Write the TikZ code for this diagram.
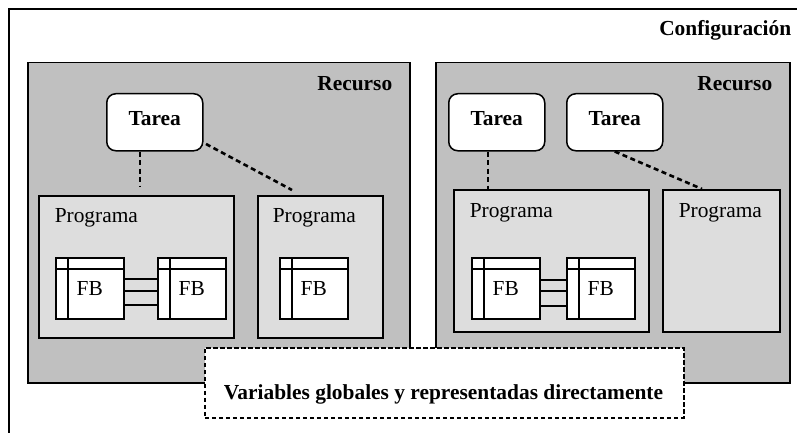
\documentclass[tikz,border=0pt]{standalone}
\usepackage{fontspec}
\setmainfont{Liberation Serif}
\definecolor{recgray}{RGB}{192,192,192}
\definecolor{proggray}{RGB}{221,221,221}
\begin{document}
\begin{tikzpicture}[x=1pt,y=-1pt,line width=1.5pt,
  font=\fontsize{21.4}{25}\selectfont,
  recbox/.style={draw,fill=recgray,anchor=north west,inner sep=0,minimum height=320pt},
  progbox/.style={draw,fill=proggray,anchor=north west,inner sep=0},
  tareabox/.style={draw,fill=white,rounded corners=9pt,anchor=north west,inner sep=0,
     minimum width=96pt,minimum height=57pt,text height=14pt,text depth=7pt,font=\fontsize{21.4}{25}\selectfont\bfseries},
  fbbox/.style={draw,fill=white,anchor=north west,inner sep=0,minimum width=68pt,minimum height=61pt,
     path picture={
       \draw ([xshift=12pt]path picture bounding box.north west) -- ([xshift=12pt]path picture bounding box.south west);
       \draw ([yshift=-11pt]path picture bounding box.north west) -- ([yshift=-11pt]path picture bounding box.north east);
     }},
  boldlabel/.style={font=\fontsize{21.4}{25}\selectfont\bfseries,inner sep=0},
  plainlabel/.style={inner sep=0,anchor=base west},
  tdash/.style={line width=2.6pt,dash pattern=on 5pt off 3.5pt},
  wire/.style={line width=1.5pt}
]
\useasboundingbox (0,0) rectangle (797,433);
\fill[white] (0,0) rectangle (797,433);
% Configuracion frame (cropped at right and bottom)
\draw (9,460) |- (830,9);
\node[boldlabel,anchor=base east] (conf) at (792,36) {Configuración};

% Left resource
\node[recbox,minimum width=382pt] (r1) at (27,62) {};
\node[boldlabel,anchor=base east] (r1lab) at (393,91) {Recurso};
\node[tareabox] (t1) at (106,93) {Tarea};
\node[progbox,minimum width=195pt,minimum height=142pt] (p1) at (38,195) {};
\node[plainlabel] (p1lab) at (54,222) {Programa};
\node[progbox,minimum width=125pt,minimum height=142pt] (p2) at (257,195) {};
\node[plainlabel] (p2lab) at (272,222) {Programa};
\node[fbbox] (fb1) at (55,257) {FB};
\node[fbbox] (fb2) at (157,257) {FB};
\node[fbbox] (fb3) at (279,257) {FB};
\foreach \s in {9.5,-2.5,-16.5}{
  \draw[wire] ([yshift=\s pt]fb1.east) -- ([yshift=\s pt]fb2.west);
}
\coordinate (t1end) at (140,186);
\draw[tdash] (t1.south -| t1end) -- (t1end);
\coordinate (t1s) at (206,144);
\coordinate (t1e) at (292,190);
\draw[tdash] (t1s) -- (t1e);

% Right resource
\node[recbox,minimum width=354pt] (r2) at (435,62) {};
\node[boldlabel,anchor=base east] (r2lab) at (773,91) {Recurso};
\node[tareabox] (t2) at (448,93) {Tarea};
\node[tareabox] (t3) at (566,93) {Tarea};
\node[progbox,minimum width=195pt,minimum height=142pt] (p3) at (453,189) {};
\node[plainlabel] (p3lab) at (469,217) {Programa};
\node[progbox,minimum width=117pt,minimum height=142pt] (p4) at (662,189) {};
\node[plainlabel] (p4lab) at (678,217) {Programa};
\node[fbbox] (fb4) at (471,257) {FB};
\node[fbbox] (fb5) at (566,257) {FB};
\foreach \s in {8.5,-2.5,-17.5}{
  \draw[wire] ([yshift=\s pt]fb4.east) -- ([yshift=\s pt]fb5.west);
}
\coordinate (t2x) at (488,0);
\draw[tdash] (t2.south -| t2x) -- (p3.north -| t2x);
\coordinate (t3x) at (702,0);
\draw[tdash] (t3.south) -- (p4.north -| t3x);

% Global variables
\node[draw,fill=white,anchor=north west,inner sep=0,minimum width=479pt,minimum height=70pt,
      line width=1.6pt,dash pattern=on 4.5pt off 2.5pt] (gv) at (204,347) {};
\node[boldlabel,anchor=base] (gvlab) at (443.5,399) {Variables globales y representadas directamente};
\end{tikzpicture}
\end{document}
